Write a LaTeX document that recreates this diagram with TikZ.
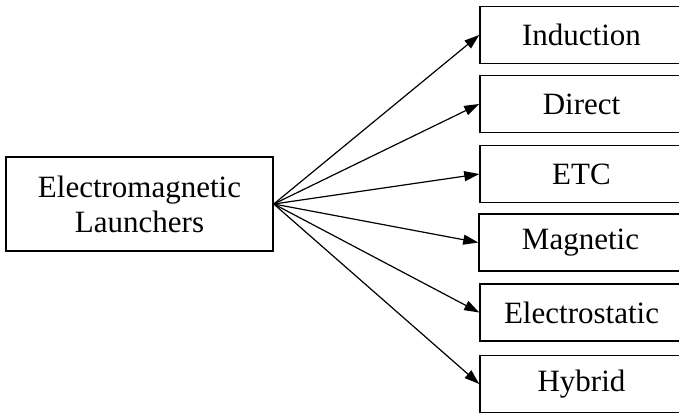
\documentclass[tikz,border=0pt]{standalone}
\usepackage{fontspec}
\setmainfont{Liberation Serif}
\usetikzlibrary{arrows.meta}

\begin{document}
\begin{tikzpicture}[x=1pt,y=-1pt,
		box/.style={draw,line width=1.5pt,inner sep=0pt,align=center,font=\fontsize{31}{35}\selectfont},
		kind/.style={box,minimum width=203pt,minimum height=57pt},
		feed/.style={line width=1.2pt,-{Triangle[length=15pt,width=10pt]}}]
			\useasboundingbox (0,0) rectangle (679,413);
			\node (launchers) [at={(139.5,204)}, box, minimum width=267pt, minimum height=94pt] {Electromagnetic\\Launchers};
			\node (induction) [at={(581.5,35)}, kind] {Induction};
			\node (direct) [at={(581.5,104)}, kind] {Direct};
			\node (etc) [at={(581.5,174)}, kind] {ETC};
			\node (magnetic) [at={(580.5,242.5)}, kind] {Magnetic};
			\node (electrostatic) [at={(581.5,312.5)}, kind] {Electrostatic};
			\node (hybrid) [at={(581.5,384)}, kind] {Hybrid};
			\draw[feed] (launchers.east)--(induction.west);
			\draw[feed] (launchers.east)--(direct.west);
			\draw[feed] (launchers.east)--(etc.west);
			\draw[feed] (launchers.east)--(magnetic.west);
			\draw[feed] (launchers.east)--(electrostatic.west);
			\draw[feed] (launchers.east)--(hybrid.west);
			\end{tikzpicture}
\end{document}
